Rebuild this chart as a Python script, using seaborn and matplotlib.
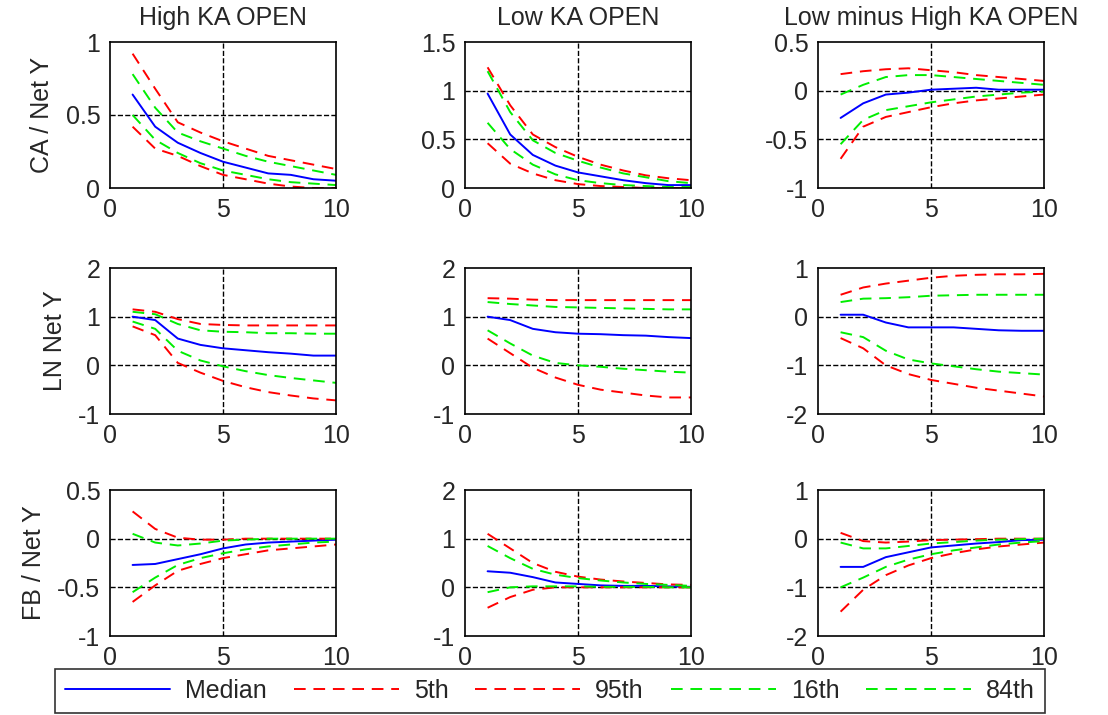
import numpy as np
import pandas as pd
import matplotlib
matplotlib.use('Agg')
import matplotlib.pyplot as plt
import seaborn as sns

sns.set_style('white')
plt.rcParams['font.family'] = ['Liberation Sans', 'DejaVu Sans']

horizon = list(range(1, 11))
col_titles = ['High KA OPEN', 'Low KA OPEN', 'Low minus High KA OPEN']
row_labels = ['CA / Net Y', 'LN Net Y', 'FB / Net Y']
series_names = ['Median', '5th', '95th', '16th', '84th']

# row 1: CA / Net Y
ca_high = {
    'Median': [.64, .42, .31, .24, .18, .14, .10, .09, .06, .05],
    '5th': [.42, .27, .22, .15, .09, .06, .03, .01, .0, .0],
    '95th': [.92, .68, .45, .38, .32, .27, .22, .19, .16, .13],
    '16th': [.50, .33, .24, .17, .12, .09, .06, .04, .03, .02],
    '84th': [.78, .55, .38, .32, .27, .22, .18, .15, .12, .09],
}
ca_low = {
    'Median': [.97, .55, .34, .23, .16, .12, .08, .05, .03, .03],
    '5th': [.46, .25, .15, .08, .04, .02, .01, 0, 0, 0],
    '95th': [1.24, .85, .55, .42, .32, .24, .18, .13, .10, .08],
    '16th': [.67, .40, .24, .14, .08, .05, .03, .02, .01, .01],
    '84th': [1.20, .78, .49, .36, .28, .21, .15, .11, .07, .05],
}
ca_diff = {
    'Median': [-.28, -.13, -.04, -.02, .01, .02, .03, .01, .01, .01],
    '5th': [-.70, -.37, -.27, -.22, -.17, -.13, -.10, -.08, -.06, -.04],
    '95th': [.17, .20, .22, .23, .21, .19, .16, .14, .12, .10],
    '16th': [-.55, -.30, -.20, -.16, -.12, -.09, -.06, -.04, -.02, -.01],
    '84th': [-.04, .06, .14, .16, .16, .14, .12, .10, .08, .06],
}
# row 2: LN Net Y
ln_high = {
    'Median': [1.0, .93, .55, .42, .35, .31, .27, .24, .20, .20],
    '5th': [.8, .62, .05, -.15, -.32, -.45, -.55, -.62, -.68, -.72],
    '95th': [1.15, 1.1, .95, .85, .83, .82, .82, .82, .82, .82],
    '16th': [.9, .75, .3, .1, -.02, -.12, -.2, -.26, -.31, -.36],
    '84th': [1.1, 1.05, .85, .72, .69, .68, .66, .66, .65, .65],
}
ln_low = {
    'Median': [1.0, .93, .75, .68, .65, .64, .62, .61, .58, .56],
    '5th': [.55, .25, -.05, -.25, -.40, -.50, -.56, -.62, -.66, -.66],
    '95th': [1.38, 1.37, 1.35, 1.34, 1.34, 1.34, 1.34, 1.34, 1.34, 1.34],
    '16th': [.72, .45, .2, .05, 0, -.03, -.07, -.1, -.13, -.15],
    '84th': [1.3, 1.26, 1.23, 1.2, 1.19, 1.18, 1.17, 1.16, 1.15, 1.15],
}
ln_diff = {
    'Median': [.04, .04, -.12, -.22, -.22, -.22, -.25, -.28, -.29, -.29],
    '5th': [-.44, -.65, -1.0, -1.18, -1.3, -1.38, -1.46, -1.52, -1.58, -1.64],
    '95th': [.45, .6, .68, .74, .80, .84, .86, .87, .87, .88],
    '16th': [-.32, -.42, -.7, -.88, -.96, -1.02, -1.08, -1.13, -1.16, -1.19],
    '84th': [.3, .37, .38, .4, .43, .44, .45, .45, .45, .45],
}
# row 3: FB / Net Y
fb_high = {
    'Median': [-.27, -.26, -.21, -.16, -.10, -.06, -.04, -.03, -.02, -.01],
    '5th': [-.65, -.48, -.33, -.26, -.20, -.16, -.12, -.10, -.08, -.06],
    '95th': [.28, .1, .01, -.01, -.01, 0, 0, 0, 0, 0],
    '16th': [-.55, -.40, -.27, -.20, -.15, -.11, -.08, -.06, -.04, -.03],
    '84th': [.05, -.04, -.07, -.05, -.02, -.01, 0, 0, 0, 0],
}
fb_low = {
    'Median': [.33, .30, .21, .10, .07, .04, .03, .03, .02, .01],
    '5th': [-.42, -.2, -.05, 0, 0, 0, 0, 0, 0, 0],
    '95th': [1.1, .8, .5, .32, .22, .16, .12, .09, .06, .05],
    '16th': [-.1, 0, .02, .02, .02, .01, .01, .01, 0, 0],
    '84th': [.85, .6, .38, .26, .19, .14, .1, .07, .05, .03],
}
fb_diff = {
    'Median': [-.58, -.58, -.38, -.28, -.18, -.14, -.1, -.07, -.03, -.02],
    '5th': [-1.5, -1.05, -.75, -.55, -.40, -.30, -.22, -.16, -.12, -.08],
    '95th': [.12, -.05, -.08, -.06, -.03, -.02, -.01, 0, 0, 0],
    '16th': [-1.0, -.8, -.58, -.43, -.32, -.24, -.18, -.12, -.08, -.05],
    '84th': [-.08, -.2, -.2, -.15, -.1, -.07, -.04, -.02, -.01, 0],
}

panels = [[ca_high, ca_low, ca_diff], [ln_high, ln_low, ln_diff], [fb_high, fb_low, fb_diff]]
ylims = [[(0, 1), (0, 1.5), (-1, 0.5)], [(-1, 2), (-1, 2), (-2, 1)], [(-1, 0.5), (-1, 2), (-2, 1)]]
yticks = [[[0, .5, 1], [0, .5, 1, 1.5], [-1, -.5, 0, .5]],
          [[-1, 0, 1, 2], [-1, 0, 1, 2], [-2, -1, 0, 1]],
          [[-1, -.5, 0, .5], [-1, 0, 1, 2], [-2, -1, 0, 1]]]

colors = {'Median': 'blue', '5th': 'red', '95th': 'red', '16th': '#00ee00', '84th': '#00ee00'}
dashes = {'Median': '', '5th': (6, 4), '95th': (6, 4), '16th': (6, 4), '84th': (6, 4)}

W, H = 1108, 715
fig = plt.figure(figsize=(W / 100, H / 100), dpi=100)
lefts = [110, 465, 818]
tops = [42, 268, 490]
aw, ah = 226, 146

for r in range(3):
    for c in range(3):
        ax = fig.add_axes([lefts[c] / W, 1 - (tops[r] + ah) / H, aw / W, ah / H])
        d = panels[r][c]
        df = pd.DataFrame({'h': horizon * 5,
                           'v': sum([d[n] for n in series_names], []),
                           's': sum([[n] * 10 for n in series_names], [])})
        sns.lineplot(data=df, x='h', y='v', hue='s', style='s', palette=colors,
                     dashes=dashes, hue_order=series_names, style_order=series_names,
                     ax=ax, legend=False, linewidth=1.4)
        ax.set_xlim(0, 10)
        ax.set_ylim(*ylims[r][c])
        ax.set_xticks([0, 5, 10])
        ax.set_yticks(yticks[r][c])
        ax.set_yticklabels([('%g' % t) for t in yticks[r][c]])
        for t in yticks[r][c][1:-1]:
            ax.axhline(t, color='black', ls='--', lw=1, zorder=0)
        ax.axvline(5, color='black', ls='--', lw=1, zorder=0)
        ax.set_xlabel('')
        ax.set_ylabel('')
        ax.tick_params(labelsize=18, direction='in', length=4, pad=7)
        for sp in ax.spines.values():
            sp.set_color('black')
            sp.set_linewidth(1.2)
        if r == 0:
            ax.set_title(col_titles[c], fontsize=18, pad=12)
        if c == 0:
            ax.set_ylabel(row_labels[r], fontsize=18, labelpad=8)

handles = [plt.Line2D([], [], color=colors[n], lw=1.4,
                      ls='-' if n == 'Median' else (0, (6, 4))) for n in series_names]
leg = fig.legend(handles, series_names, ncol=5, mode='expand', loc='lower left',
                 bbox_to_anchor=(55 / W, 2 / H, 990 / W, 40 / H), fontsize=18,
                 frameon=True, fancybox=False, edgecolor='black', handlelength=4.2,
                 borderaxespad=0, handletextpad=0.6, columnspacing=1.5)
leg.get_frame().set_linewidth(1.2)

fig.savefig('out.png', dpi=100)
